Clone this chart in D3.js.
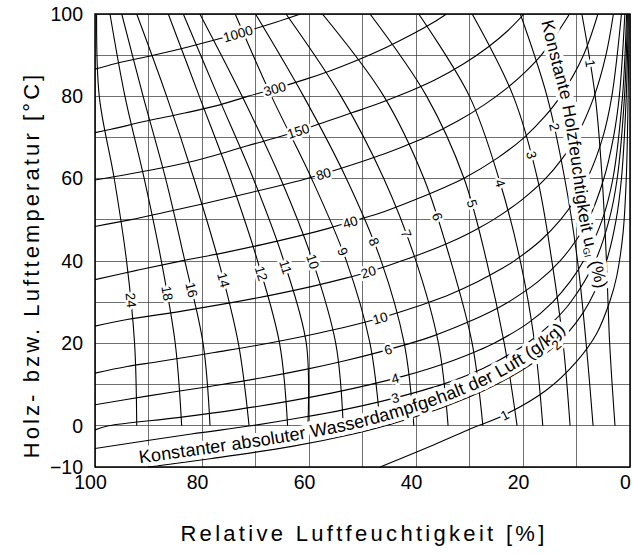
<!DOCTYPE html>
<html>
<head>
<meta charset="utf-8">
<script src="https://cdn.jsdelivr.net/npm/d3@7"></script>
<style>
  body { margin: 0; background: #fff; }
  text { font-family: "Liberation Sans", Arial, Helvetica, sans-serif; }
</style>
</head>
<body>
<div id="chart"></div>
<script>
// ---- data ----
const xTicks = [100, 80, 60, 40, 20, 0];
const yTicks = [-10, 0, 20, 40, 60, 80, 100];

// constant wood moisture content u (%) : relative humidity at the given temperatures
const emcValues = [24, 18, 16, 14, 12, 11, 10, 9, 8, 7, 6, 5, 4, 3, 2, 1];
const emcTemps = [0, 20, 40, 60, 80, 100];
const emcRH = [
  [92.2, 92.6, 94.1, 96.4, 99.2, 99.7],
  [83.8, 85.0, 87.6, 90.8, 94.4, 97.2],
  [78.5, 79.8, 83.2, 86.8, 91.0, 95.0],
  [71.2, 73.2, 76.9, 81.5, 86.6, 92.2],
  [64.0, 65.5, 69.6, 74.7, 80.5, 86.3],
  [60.2, 60.5, 64.7, 70.4, 77.0, 83.5],
  [53.6, 55.0, 59.3, 65.3, 72.5, 80.4],
  [46.7, 48.6, 53.0, 59.5, 67.0, 73.8],
  [40.4, 42.2, 46.5, 53.0, 61.0, 70.0],
  [34.0, 35.8, 40.0, 46.0, 54.0, 64.3],
  [27.5, 29.5, 33.5, 38.5, 46.0, 57.5],
  [21.1, 23.5, 26.8, 31.0, 38.0, 48.6],
  [16.3, 17.8, 20.5, 24.5, 30.0, 39.5],
  [11.2, 12.5, 14.6, 17.3, 21.8, 29.5],
  [6.9, 8.2, 9.8, 12.2, 15.5, 20.5],
  [2.8, 3.8, 4.4, 5.2, 6.5, 9.0]
];
const emcLabelT = [30.5, 32.2, 33, 35.4, 37, 38.6, 39.9, 42.3, 44.7, 46.7, 50.8, 54, 58.9, 65.8, 72.6, 88];

// constant absolute humidity (g/kg): [relative humidity, temperature]
const absValues = [1000, 300, 150, 80, 40, 20, 10, 6, 4, 3, 2, 1];
const absCurves = [
  [[100,86.6],[96.1,88],[89.1,90],[82.6,92],[73.9,95],[66.2,98],[61.6,100]],
  [[100,71.2],[97,72],[90.4,74],[83,76],[76.5,78],[71.5,80],[66,82],[61,84],[56.5,86],[52.5,88],[48.8,90],[45.4,92],[40.8,95],[36.7,98],[34.3,100]],
  [[100,59.7],[90,62],[82.5,64],[78,65.5],[71.5,68],[66,70],[61,72],[56.5,74],[52,76],[47.5,78],[43.5,80],[36.5,84],[31,88],[26.5,92],[22.8,96],[19.8,100]],
  [[100,48.4],[93.5,50],[86.5,52],[79.5,54],[73,56],[66.5,58],[60.5,60],[55.3,62],[50.5,64],[46,66],[42,68],[38.3,70],[32.2,74],[27.2,78],[23,82],[19.5,86],[16.6,90],[13.8,95],[11.3,100]],
  [[100,35.5],[92,37.8],[84,40],[76,42],[68.8,44],[62.2,46],[56.2,48],[51,50],[46,52],[40,55],[34.5,58],[31.2,60],[24.8,65],[19.8,70],[16,75],[13,80],[8.7,90],[6,100]],
  [[100,24.2],[94,25.8],[84,27.8],[75,29.8],[66.8,31.8],[59.6,33.8],[53.3,35.8],[47.8,37.8],[42.8,40],[38.5,42],[32.9,45],[28.3,48],[25.6,50],[20.1,55],[15.8,60],[12.6,65],[10.1,70],[6.7,80],[4.5,90],[3.1,100]],
  [[100,12.8],[94,14.4],[88,15.6],[77.7,17.8],[68.6,19.8],[60.7,21.8],[53.7,23.8],[47.7,25.8],[42.4,27.9],[37.8,29.9],[33.7,31.9],[28.5,35],[24.2,38],[21.7,40],[16.7,45],[13,50],[10.2,55],[8,60],[5.1,70],[3.4,80],[1.6,100]],
  [[100,5.1],[90.3,7.2],[78.9,9.5],[69,11.6],[60.6,13.7],[53.3,15.8],[46.9,17.9],[41.4,19.9],[36.6,21.9],[30.6,25],[25.6,28],[22.8,30],[17.2,35],[13.1,40],[10.1,45],[7.8,50],[4.9,60],[3.1,70],[2,80],[0.96,100]],
  [[100,-1],[97.5,0],[84.5,2],[73.2,4],[63.7,6],[55.6,8],[48.6,10],[42.5,12],[37.3,14],[32.8,16],[28.9,18],[25.5,20],[19,25],[14.5,30],[11.2,35],[8.7,40],[5.2,50],[3.2,60],[1.4,80],[0.64,100]],
  [[100,-5.5],[82,-2],[70.8,0],[61.4,2],[53.2,4],[46.3,6],[40.4,8],[35.2,10],[31,12],[27.4,14],[24.4,16],[21.7,18],[19.3,20],[14.6,25],[11.1,30],[6.5,40],[3.9,50],[2.4,60],[1.03,80],[0.48,100]],
  [[90,-10],[78.5,-8],[63.2,-5],[51.7,-2],[45.7,0],[40.6,2],[35.9,4],[31.9,6],[28.2,8],[25,10],[18.4,15],[13.5,20],[10.1,25],[7.6,30],[4.4,40],[2.6,50],[1.6,60],[0.7,80],[0.32,100]],
  [[46.7,-10],[37.4,-5],[30.3,-1],[23.5,2.6],[15.6,8.7],[10,15.6],[6.2,22.5],[3.7,30.5],[2.5,36.2],[1.3,46.8],[0.7,60],[0.35,80],[0.16,100]]
];
const absLabelRH = [73.3, 66.4, 62, 57.3, 52.3, 48.9, 46.7, 45.2, 43.9, 43.9, 13.8, 23.4];

// baselines of the two running captions: [relative humidity, temperature]
const absCaption = "Konstanter absoluter Wasserdampfgehalt der Luft (g/kg)";
const absCaptionLine = [[91.6,-9.1],[78.5,-6.7],[63.2,-3.7],[51.7,-0.8],[45.7,1.2],[40.6,3.2],[35.9,5.2],[31.9,7.2],[28.2,9.2],[25,11.2],[18.4,16.3],[13.5,21.3],[10,26.5],[7,33]];
const emcCaptionLine = [[16.6,98.1],[14.6,87.6],[12.9,79.1],[11.6,69.4],[10.3,57.3],[9.3,48.8],[8,41.5],[6.5,34.2],[5.5,28],[4.8,20]];

// ---- layout ----
const width = 633, height = 554;
const margin = { top: 14, right: 3, bottom: 87, left: 95 };
const innerWidth = width - margin.left - margin.right;
const innerHeight = height - margin.top - margin.bottom;

const svg = d3.select("#chart")
  .append("svg")
  .attr("width", width)
  .attr("height", height);

const g = svg.append("g")
  .attr("transform", `translate(${margin.left},${margin.top})`);

const xScale = d3.scaleLinear().domain([100, 0]).range([0, innerWidth]);
const yScale = d3.scaleLinear().domain([-10, 100]).range([innerHeight, 0]);

svg.append("defs").append("clipPath").attr("id", "plotClip")
  .append("rect").attr("width", innerWidth).attr("height", innerHeight);

// grid
const grid = g.append("g").attr("stroke", "#333").attr("stroke-width", 0.7).attr("shape-rendering", "crispEdges");
grid.selectAll("line.v").data(xScale.ticks(10)).join("line")
  .attr("class", "v")
  .attr("x1", d => xScale(d)).attr("x2", d => xScale(d))
  .attr("y1", 0).attr("y2", innerHeight);
grid.selectAll("line.h").data(yScale.ticks(11)).join("line")
  .attr("class", "h")
  .attr("x1", 0).attr("x2", innerWidth)
  .attr("y1", d => yScale(d)).attr("y2", d => yScale(d));

const line = d3.line()
  .x(d => xScale(d[0]))
  .y(d => yScale(d[1]))
  .curve(d3.curveCatmullRom.alpha(0.5));

const curves = g.append("g").attr("clip-path", "url(#plotClip)")
  .attr("fill", "none").attr("stroke", "#000").attr("stroke-width", 1.1);

// absolute humidity curves
const absPaths = curves.selectAll("path.abs").data(absCurves).join("path")
  .attr("class", "abs")
  .attr("d", line);

// wood moisture curves
const emcData = emcRH.map(row => row.map((rh, i) => [rh, emcTemps[i]]));
const emcPaths = curves.selectAll("path.emc").data(emcData).join("path")
  .attr("class", "emc")
  .attr("d", line);

// find length on a path where a coordinate reaches a target value
function lengthAt(node, target, get, increasing) {
  let lo = 0, hi = node.getTotalLength();
  for (let i = 0; i < 40; i++) {
    const mid = (lo + hi) / 2;
    const v = get(node.getPointAtLength(mid));
    if ((v < target) === increasing) lo = mid; else hi = mid;
  }
  return (lo + hi) / 2;
}

// running captions: a white halo layer first, then the black text
const capLine = d3.line().x(d => xScale(d[0])).y(d => yScale(d[1])).curve(d3.curveCatmullRom.alpha(0.5));
svg.select("defs").append("path").attr("id", "absCap").attr("d", capLine(absCaptionLine));
svg.select("defs").append("path").attr("id", "emcCap").attr("d", capLine(emcCaptionLine));

function drawCaptions(layer) {
  layer.append("text").attr("font-size", 18).attr("letter-spacing", 0.1)
    .append("textPath")
    .attr("href", "#absCap")
    .text(absCaption);

  const emcCap = layer.append("text").attr("font-size", 17.5).attr("letter-spacing", 0.3)
    .append("textPath").attr("href", "#emcCap");
  emcCap.append("tspan").text("Konstante Holzfeuchtigkeit u");
  emcCap.append("tspan").attr("font-size", 9).attr("dy", 3).text("Gl");
  emcCap.append("tspan").attr("dy", -3).text(" (%)");
}
drawCaptions(g.append("g").attr("fill", "#fff").attr("stroke", "#fff")
  .attr("stroke-width", 8).attr("stroke-linejoin", "round"));
drawCaptions(g.append("g").attr("fill", "#000"));

// number labels on the curves
const halo = g.append("g").attr("font-size", 13.5).attr("text-anchor", "middle")
  .attr("fill", "#fff").attr("stroke", "#fff").attr("stroke-width", 5).attr("stroke-linejoin", "round");
const labels = g.append("g").attr("font-size", 13.5).attr("text-anchor", "middle").attr("fill", "#000");

function addLabel(p, ang, txt) {
  [halo, labels].forEach(layer => layer.append("text")
    .attr("transform", `translate(${p.x},${p.y}) rotate(${ang})`)
    .attr("dy", "0.36em")
    .text(txt));
}

// labels on absolute humidity curves, upright along the curve
absPaths.each(function (d, i) {
  const l = lengthAt(this, xScale(absLabelRH[i]), p => p.x, true);
  const a = this.getPointAtLength(Math.max(0, l - 3));
  const b = this.getPointAtLength(l + 3);
  addLabel(this.getPointAtLength(l), Math.atan2(b.y - a.y, b.x - a.x) * 180 / Math.PI, absValues[i]);
});

// labels on wood moisture curves, reading downwards
emcPaths.each(function (d, i) {
  const l = lengthAt(this, yScale(emcLabelT[i]), p => p.y, false);
  const a = this.getPointAtLength(Math.max(0, l - 3));
  const b = this.getPointAtLength(l + 3);
  addLabel(this.getPointAtLength(l), Math.atan2(a.y - b.y, a.x - b.x) * 180 / Math.PI, emcValues[i]);
});

// frame
g.append("rect")
  .attr("width", innerWidth).attr("height", innerHeight)
  .attr("fill", "none").attr("stroke", "#000").attr("stroke-width", 1.5);

// axes
const xAxis = d3.axisBottom(xScale).tickValues(xTicks).tickSize(0).tickPadding(8);
const yAxis = d3.axisLeft(yScale).tickValues(yTicks).tickSize(0).tickPadding(12);

const gx = g.append("g").attr("transform", `translate(0,${innerHeight})`).call(xAxis);
const gy = g.append("g").call(yAxis);
[gx, gy].forEach(a => {
  a.select(".domain").remove();
  a.selectAll("text").attr("font-size", 19.5).attr("fill", "#000")
    .style("font-family", '"Liberation Sans", Arial, sans-serif');
});
gx.selectAll("text").attr("x", -5);

// axis titles
svg.append("text")
  .attr("x", 364)
  .attr("y", 541)
  .attr("text-anchor", "middle")
  .attr("font-size", 22)
  .attr("letter-spacing", 3.3)
  .text("Relative Luftfeuchtigkeit [%]");

svg.append("text")
  .attr("transform", `translate(39,265) rotate(-90)`)
  .attr("text-anchor", "middle")
  .attr("font-size", 22)
  .attr("letter-spacing", 3.1)
  .text("Holz- bzw. Lufttemperatur [°C]");
</script>
</body>
</html>
